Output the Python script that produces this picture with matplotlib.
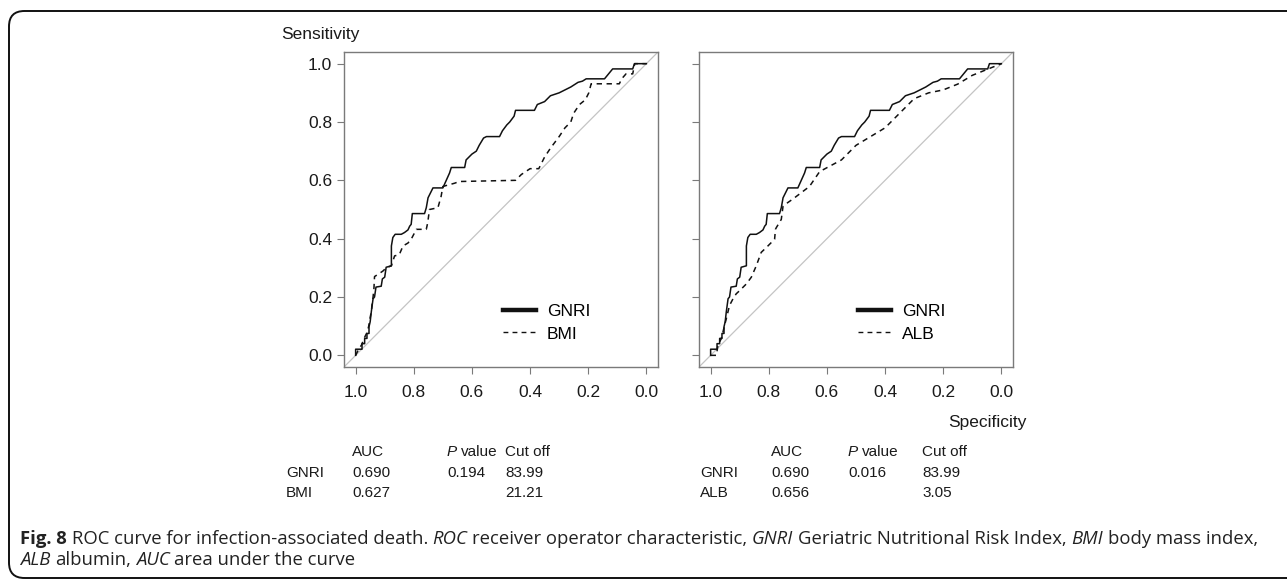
import matplotlib.pyplot as plt
from matplotlib.lines import Line2D
from matplotlib.patches import FancyBboxPatch

W, H = 1287, 580

# ROC curves (specificity, sensitivity)
gnri_spec = [1.0, 1.0, 0.978, 0.978, 0.969, 0.969, 0.961, 0.961, 0.954, 0.954, 0.950, 0.946, 0.940,
             0.935, 0.930, 0.912, 0.908, 0.900, 0.895, 0.877, 0.877, 0.872, 0.864, 0.843, 0.832,
             0.820, 0.814, 0.809, 0.805, 0.763, 0.757, 0.752, 0.751, 0.734, 0.700, 0.677, 0.671,
             0.643, 0.625, 0.620, 0.600, 0.585, 0.575, 0.560, 0.550, 0.505, 0.495, 0.480, 0.470,
             0.455, 0.450, 0.385, 0.375, 0.350, 0.330, 0.300, 0.280, 0.260, 0.235, 0.220, 0.207,
             0.144, 0.130, 0.116, 0.047, 0.041, 0.0]
gnri_sens = [0.0, 0.021, 0.021, 0.040, 0.040, 0.058, 0.058, 0.075, 0.075, 0.098, 0.115, 0.150, 0.194,
             0.200, 0.234, 0.237, 0.262, 0.268, 0.302, 0.307, 0.375, 0.404, 0.415, 0.415, 0.421,
             0.430, 0.443, 0.449, 0.486, 0.486, 0.506, 0.534, 0.540, 0.574, 0.574, 0.625, 0.644,
             0.644, 0.644, 0.670, 0.690, 0.700, 0.720, 0.745, 0.750, 0.750, 0.770, 0.790, 0.800,
             0.820, 0.840, 0.840, 0.860, 0.870, 0.890, 0.900, 0.910, 0.920, 0.936, 0.940, 0.948,
             0.948, 0.965, 0.982, 0.982, 1.0, 1.0]

bmi_spec = [1.0, 0.990, 0.980, 0.970, 0.960, 0.955, 0.950, 0.946, 0.944, 0.940, 0.937, 0.935, 0.909,
            0.905, 0.895, 0.877, 0.866, 0.850, 0.837, 0.820, 0.809, 0.791, 0.757, 0.752, 0.746,
            0.717, 0.706, 0.700, 0.660, 0.643, 0.450, 0.430, 0.400, 0.370, 0.350, 0.330, 0.300,
            0.280, 0.260, 0.250, 0.230, 0.210, 0.198, 0.190, 0.093, 0.085, 0.070, 0.047, 0.040, 0.0]
bmi_sens = [0.0, 0.020, 0.035, 0.060, 0.080, 0.100, 0.130, 0.150, 0.170, 0.200, 0.230, 0.270, 0.287,
            0.290, 0.300, 0.307, 0.341, 0.345, 0.375, 0.385, 0.398, 0.432, 0.432, 0.455, 0.500,
            0.506, 0.545, 0.579, 0.590, 0.596, 0.600, 0.620, 0.640, 0.640, 0.680, 0.710, 0.750,
            0.780, 0.800, 0.830, 0.860, 0.876, 0.900, 0.931, 0.931, 0.948, 0.965, 0.965, 1.0, 1.0]

alb_spec = [1.0, 0.980, 0.975, 0.963, 0.952, 0.946, 0.935, 0.923, 0.912, 0.900, 0.877, 0.860, 0.843,
            0.826, 0.803, 0.780, 0.777, 0.774, 0.757, 0.751, 0.740, 0.717, 0.660, 0.625, 0.550,
            0.500, 0.450, 0.400, 0.350, 0.300, 0.250, 0.200, 0.150, 0.100, 0.050, 0.0]
alb_sens = [0.0, 0.0, 0.035, 0.058, 0.103, 0.126, 0.171, 0.194, 0.211, 0.222, 0.245, 0.268, 0.307,
            0.353, 0.375, 0.398, 0.432, 0.438, 0.466, 0.511, 0.520, 0.536, 0.579, 0.630, 0.670,
            0.720, 0.750, 0.780, 0.830, 0.880, 0.900, 0.910, 0.930, 0.960, 0.980, 1.0]

ticks = [0.0, 0.2, 0.4, 0.6, 0.8, 1.0]
tick_labels = ["0.0", "0.2", "0.4", "0.6", "0.8", "1.0"]

table_header = ["AUC", "value", "Cut off"]
left_rows = [["GNRI", "0.690", "0.194", "83.99"], ["BMI", "0.627", "", "21.21"]]
right_rows = [["GNRI", "0.690", "0.016", "83.99"], ["ALB", "0.656", "", "3.05"]]

caption1 = [("Fig. 8", "normal", "bold"), (" ROC curve for infection-associated death. ", "normal", "normal"),
            ("ROC", "italic", "normal"), (" receiver operator characteristic, ", "normal", "normal"),
            ("GNRI", "italic", "normal"), (" Geriatric Nutritional Risk Index, ", "normal", "normal"),
            ("BMI", "italic", "normal"), (" body mass index,", "normal", "normal")]
caption2 = [("ALB", "italic", "normal"), (" albumin, ", "normal", "normal"),
            ("AUC", "italic", "normal"), (" area under the curve", "normal", "normal")]

plt.rcParams['font.family'] = ['Liberation Sans', 'DejaVu Sans']
fig = plt.figure(figsize=(W / 100, H / 100), dpi=100)
renderer = fig.canvas.get_renderer()

FRAME = '#7a7a7a'
INK = '#1a1a1a'
DASH = (3.5, 3.0)


def fx(x):
    return x / W


def fy(y):
    return 1 - y / H


def rich(x, y, pieces, size, family, color=INK):
    # lay out pieces of text one after another, in pixel coords
    for s, style, weight in pieces:
        lead = len(s) - len(s.lstrip(' '))
        trail = len(s) - len(s.rstrip(' '))
        probe = fig.text(0, 0, "x x", fontsize=size, family=family, style=style, weight=weight)
        probe2 = fig.text(0, 0, "xx", fontsize=size, family=family, style=style, weight=weight)
        sp = probe.get_window_extent(renderer).width - probe2.get_window_extent(renderer).width
        probe.remove()
        probe2.remove()
        x += lead * sp
        t = fig.text(fx(x), fy(y), s.strip(' '), fontsize=size, family=family, style=style,
                     weight=weight, color=color, va='center', ha='left')
        x += t.get_window_extent(renderer).width + trail * sp
    return x


def roc_panel(left, curve_spec, curve_sens, name, show_ylabels):
    ax = fig.add_axes([fx(left), fy(367), 314 / W, 315 / H])
    ax.set_xlim(1.04, -0.04)
    ax.set_ylim(-0.04, 1.04)
    ax.axline((1, 0), (0, 1), color='#c4c4c4', lw=0.9, zorder=1)
    ax.plot(gnri_spec, gnri_sens, color='#111111', lw=1.1, zorder=3)
    ax.plot(curve_spec, curve_sens, color='#111111', lw=1.1, dashes=DASH, zorder=2)
    for sp in ax.spines.values():
        sp.set_color(FRAME)
        sp.set_linewidth(1.0)
    ax.set_xticks(ticks)
    ax.set_xticklabels(tick_labels)
    ax.set_yticks(ticks)
    ax.set_yticklabels(tick_labels if show_ylabels else [])
    ax.tick_params(axis='both', direction='out', length=5, width=0.8, color=FRAME,
                   labelsize=12.5, labelcolor=INK)
    ax.tick_params(axis='x', pad=8)
    ax.tick_params(axis='y', pad=3.5)
    handles = [Line2D([], [], color='#111111', lw=3.2),
               Line2D([], [], color='#111111', lw=1.0, dashes=DASH)]
    ax.legend(handles, ["GNRI", name], loc='center left', bbox_to_anchor=(0.48, 0.14),
              frameon=False, fontsize=12.5, handlelength=1.9, handletextpad=0.6,
              labelspacing=0.4, borderpad=0)
    return ax


roc_panel(344, bmi_spec, bmi_sens, "BMI", True)
roc_panel(699, alb_spec, alb_sens, "ALB", False)

fig.text(fx(320), fy(35), "Sensitivity", fontsize=12.5, color=INK, ha='center', va='center')
fig.text(fx(1027), fy(423), "Specificity", fontsize=12.5, color=INK, ha='right', va='center')


def table(x0, cols, rows):
    size = 11
    fig.text(fx(cols[0]), fy(452), table_header[0], fontsize=size, color=INK, va='center')
    rich(cols[1], 452, [("P", "italic", "normal"), (" " + table_header[1], "normal", "normal")],
         size, 'Liberation Sans')
    fig.text(fx(cols[2]), fy(452), table_header[2], fontsize=size, color=INK, va='center')
    for i, row in enumerate(rows):
        y = 473 + i * 20
        fig.text(fx(x0), fy(y), row[0], fontsize=size, color=INK, va='center')
        for c, v in zip(cols, row[1:]):
            fig.text(fx(c), fy(y), v, fontsize=size, color=INK, va='center')


table(286, [352, 447, 505], left_rows)
table(700, [771, 848, 922], right_rows)

rich(20, 539, caption1, 13.3, 'Open Sans', color='#222222')
rich(20, 560, caption2, 13.3, 'Open Sans', color='#222222')

box = FancyBboxPatch((fx(9), fy(578)), fx(1320) - fx(9), fy(11) - fy(578),
                     boxstyle="round,pad=0,rounding_size=0.012", transform=fig.transFigure,
                     fill=False, edgecolor='#111111', lw=1.4, mutation_aspect=W / H)
fig.add_artist(box)

fig.savefig("out.png", dpi=100)
